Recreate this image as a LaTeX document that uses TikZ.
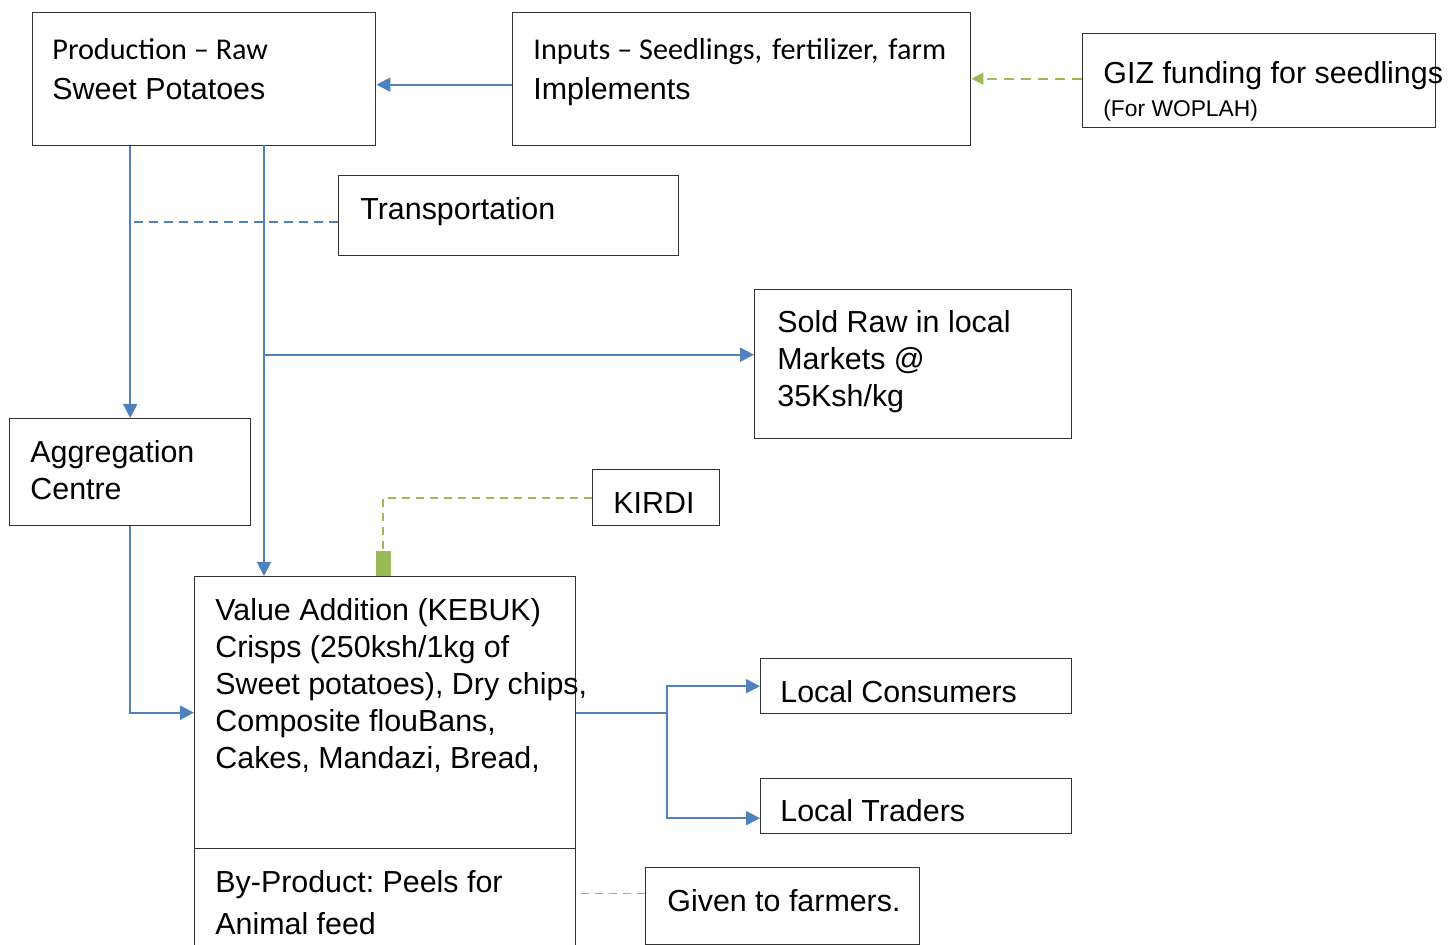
\documentclass[tikz,border=0pt]{standalone}
\usepackage{fontspec}
\setmainfont{Liberation Sans}
\newfontfamily\calib{Carlito}
\usetikzlibrary{arrows.meta,positioning,calc}
\frenchspacing

\definecolor{flowblue}{RGB}{79,129,189}
\definecolor{leafgreen}{RGB}{155,187,89}

\tikzset{
  box/.style={draw=black!80,line width=0.7pt,rectangle,inner sep=0pt,anchor=north west},
  txt/.style={anchor=base west,inner sep=0pt,align=left,font=\fontsize{15.2}{18.5}\selectfont},
  toptxt/.style={txt,font=\fontsize{15.2}{20}\selectfont},
  flow/.style={draw=flowblue,line width=1pt,-{Triangle[length=7pt,width=7pt]}},
  flowline/.style={draw=flowblue,line width=1pt},
  greenlink/.style={draw=leafgreen,line width=1pt,dash pattern=on 5pt off 3.5pt},
}

\begin{document}
\begin{tikzpicture}[x=0.5pt,y=-0.5pt]
  \useasboundingbox (0,0) rectangle (1448,945);
  \clip (0,0) rectangle (1448,945);

  % boxes
  \node[box,minimum width=171.5pt,minimum height=66.5pt] (prod) at (32,12) {};
  \node[box,minimum width=229pt,minimum height=66.5pt] (inp) at (512,12) {};
  \node[box,minimum width=176.5pt,minimum height=47pt] (giz) at (1082,33) {};
  \node[box,minimum width=170pt,minimum height=40pt] (trans) at (338,175) {};
  \node[box,minimum width=158.5pt,minimum height=74.5pt] (sold) at (754,289) {};
  \node[box,minimum width=120.5pt,minimum height=53.5pt] (agg) at (9,418) {};
  \node[box,minimum width=63.5pt,minimum height=28pt] (kirdi) at (592,469) {};
  \node[box,minimum width=190.5pt,minimum height=136pt] (val) at (194,576) {};
  \node[box,minimum width=190.5pt,minimum height=50pt] (byp) at (194,848) {};
  \node[box,minimum width=155.5pt,minimum height=27.5pt] (cons) at (760,658) {};
  \node[box,minimum width=155.5pt,minimum height=27.5pt] (trad) at (760,778) {};
  \node[box,minimum width=137pt,minimum height=38.5pt] (farm) at (645,867) {};

  % texts (base = last line)
  \node[toptxt] (prodtxt) at (52,100) {{\calib\fontsize{15.1}{20}\selectfont Production – Raw}\\Sweet Potatoes};
  \node[toptxt] (inptxt) at (533,100) {{\calib\fontsize{15.1}{20}\selectfont Inputs – Seedlings,\ \hspace{1.5pt}fertilizer,\ \hspace{1.5pt}farm}\\Implements};
  \node[txt] (giztxt) at (1103,84) {GIZ funding for seedlings};
  \node[txt,font=\fontsize{11.4}{14}\selectfont] (woplah) at (1103,117) {(For WOPLAH)};
  \node[txt] (transtxt) at (360,220) {Transportation};
  \node[txt] (soldtxt) at (777,407) {Sold Raw in local\\Markets @\\35Ksh/kg};
  \node[txt] (aggtxt) at (30,500) {Aggregation\\Centre};
  \node[txt] (kirditxt) at (613,514) {KIRDI};
  \node[txt] (valtxt) at (215,769) {Value Addition (KEBUK)\\Crisps (250ksh/1kg of\\Sweet potatoes), Dry chips,\\Composite flouBans,\\Cakes, Mandazi, Bread,};
  \node[txt,font=\fontsize{15.2}{21}\selectfont] (byptxt) at (215,935) {By-Product: Peels for\\Animal feed};
  \node[txt] (constxt) at (780,703) {Local Consumers};
  \node[txt] (tradtxt) at (780,822) {Local Traders};
  \node[txt] (farmtxt) at (667,912) {Given to farmers.};

  % connectors
  \coordinate (split) at (264,145);
  \coordinate (fork) at ($(val.east)+(91,0)$);
  \draw[flow] ([yshift=-2.75pt]inp.west) -- ([yshift=-2.75pt]prod.east);
  \draw[greenlink,-{Triangle[length=6pt,width=6pt]}] ([yshift=1pt]giz.west) -- ([yshift=1pt]giz.west -| inp.east);
  \draw[flow] (prod.south -| agg.north) -- (agg.north);
  \draw[flow] (split) -- (split |- val.north);
  \draw[flow] ([yshift=4.75pt]split |- sold.west) -- ([yshift=4.75pt]sold.west);
  \draw[flowblue,line width=0.9pt,dash pattern=on 4.5pt off 3pt] ([yshift=-3pt]trans.west) -- ([yshift=-3pt]trans.west -| agg.north);
  \draw[flow] (agg.south) |- (val.west);
  \draw[flowline] (val.east) -- (fork);
  \draw[flow] (fork) |- (cons.west);
  \draw[flow] (fork) |- ([yshift=-6pt]trad.west);
  \draw[greenlink,line width=0.9pt,dash pattern=on 4pt off 3pt,-{Rectangle[length=12.5pt,width=7.5pt]}] (kirdi.west) -| (val.north -| 383,0);
  \draw[greenlink,line width=0.7pt,dash pattern=on 4pt off 3pt] ([yshift=6.25pt]farm.west) -- ([yshift=6.25pt]farm.west -| byp.east);
\end{tikzpicture}
\end{document}
